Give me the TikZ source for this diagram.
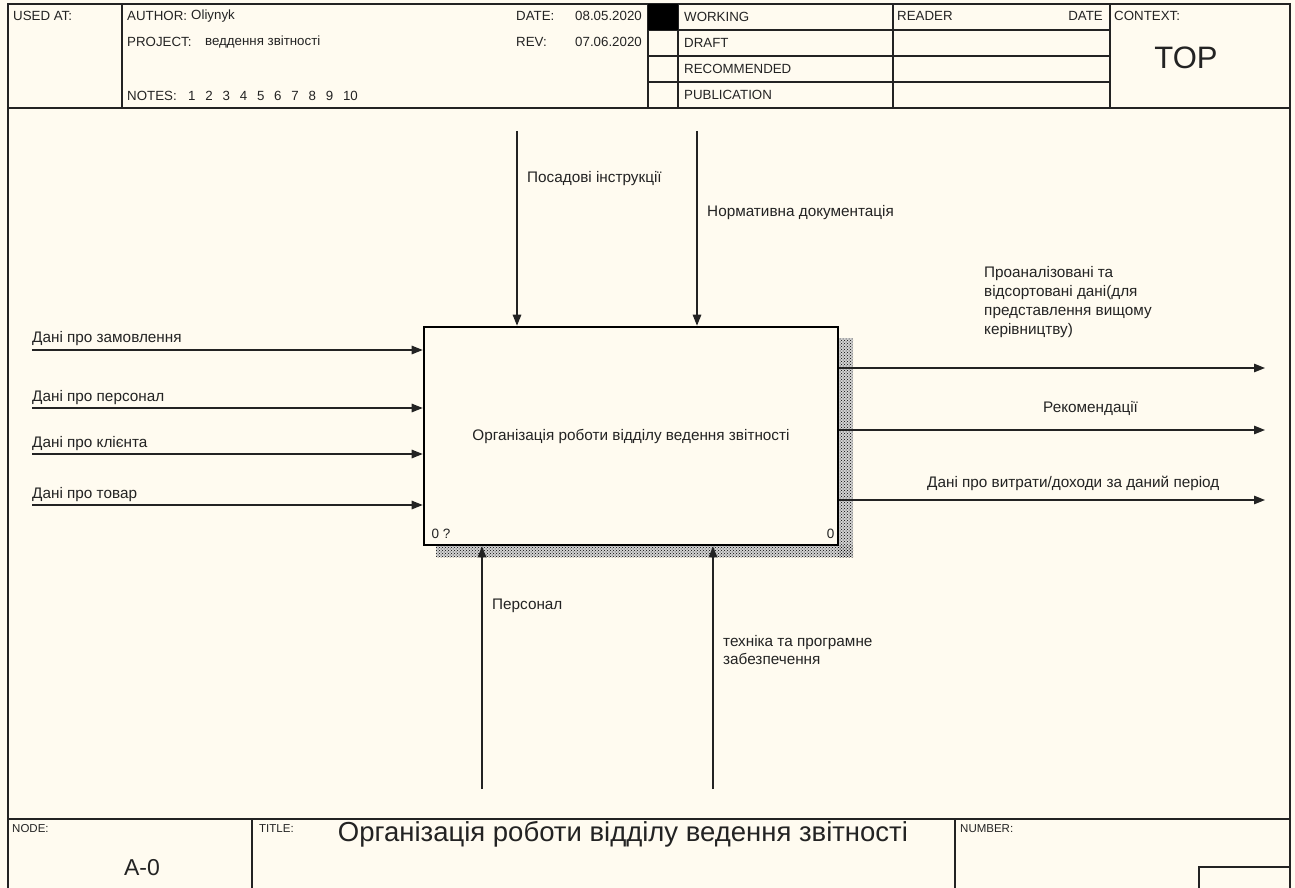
\documentclass[tikz,border=0pt]{standalone}
\usepackage{fontspec}
\setmainfont{Liberation Sans}
\usetikzlibrary{positioning,arrows.meta,patterns}
\definecolor{paper}{RGB}{255,251,240}
\definecolor{ink}{RGB}{35,35,35}
\tikzset{
  frame/.style={draw=ink, line width=1.3pt},
  hdr/.style={font=\fontsize{13.3}{15}\selectfont, text=ink, inner sep=0pt, anchor=west},
  small/.style={font=\fontsize{11.5}{13}\selectfont, text=ink, inner sep=0pt, anchor=west},
  lbl/.style={font=\fontsize{15.3}{18.8}\selectfont, text=ink, inner sep=0pt, anchor=west, align=left},
  flow/.style={draw=ink, line width=1.3pt, -{Triangle[length=11pt,width=8.5pt]}},
  funcbox/.style={draw=black, line width=2.6pt, fill=paper, minimum width=414pt, minimum height=218pt, font=\fontsize{15.3}{17}\selectfont, text=ink},
  shade/.style={pattern=crosshatch dots, pattern color=black}
}
\begin{document}
\begin{tikzpicture}[x=1pt,y=-1pt]
\useasboundingbox (0,0) rectangle (1295,888);
\fill[paper] (0,0) rectangle (1295,888);

\draw[frame, line width=2.2pt] (8,892) -- (8,4);
\draw[frame, line width=2.2pt] (1290,892) -- (1290,4);
\draw[frame] (7,4) -- (1291,4);
\draw[frame] (8,108) -- (1290,108);
\draw[frame] (122,4) -- (122,108);
\draw[frame] (648,4) -- (648,108);
\draw[frame] (678,4) -- (678,108);
\draw[frame] (893,4) -- (893,108);
\draw[frame] (1110,4) -- (1110,108);
\draw[frame] (648,30) -- (1110,30);
\draw[frame] (648,56) -- (1110,56);
\draw[frame] (648,82) -- (1110,82);
\fill[black] (648,4) rectangle (678,30);

\node[hdr] (usedat) at (13,16) {USED AT:};
\node[hdr] (author) at (127,16) {AUTHOR:};
\node[hdr] (authorv) at (191,16) {Oliynyk};
\node[hdr] (project) at (127,42) {PROJECT:};
\node[hdr] (projectv) at (205,42) {веддення звітності};
\node[hdr] (notes) at (127,96) {NOTES:};
\foreach \n in {1,...,10}
  \node[hdr] (note\n) at ({188+17.2*(\n-1)},96) {\n};
\node[hdr] (date) at (516,16) {DATE:};
\node[hdr, anchor=east] (datev) at (642,16) {08.05.2020};
\node[hdr] (rev) at (516,42) {REV:};
\node[hdr, anchor=east] (revv) at (642,42) {07.06.2020};

\node[hdr] (working) at (684,17) {WORKING};
\node[hdr] (draft) at (684,43) {DRAFT};
\node[hdr] (recommended) at (684,69) {RECOMMENDED};
\node[hdr] (publication) at (684,95) {PUBLICATION};
\node[hdr] (reader) at (897,16) {READER};
\node[hdr, anchor=east] (rdate) at (1103,16) {DATE};
\node[hdr] (context) at (1114,16) {CONTEXT:};
\node[font=\fontsize{31}{33}\selectfont, text=ink] (top) at (1186,58) {TOP};

\fill[gray!35] (838,338) rectangle (853,557);
\fill[gray!35] (436,545) rectangle (853,557);
\fill[shade] (838,338) rectangle (853,557);
\fill[shade] (436,545) rectangle (853,557);
\node[funcbox] (A0) at (631,436) {Організація роботи відділу ведення звітності};
\node[font=\fontsize{13.5}{15}\selectfont, text=ink, anchor=west] (num) at (428,534) {0 ?};
\node[font=\fontsize{13.5}{15}\selectfont, text=ink, anchor=east] (cost) at (838,534) {0};

\coordinate (in1) at (32,350);
\coordinate (in2) at (32,408);
\coordinate (in3) at (32,454);
\coordinate (in4) at (32,505);
\draw[flow] (in1) -- (A0.west |- in1);
\draw[flow] (in2) -- (A0.west |- in2);
\draw[flow] (in3) -- (A0.west |- in3);
\draw[flow] (in4) -- (A0.west |- in4);
\node[lbl] (lin1) at (32,339) {Дані про замовлення};
\node[lbl] (lin2) at (32,398) {Дані про персонал};
\node[lbl] (lin3) at (32,444) {Дані про клієнта};
\node[lbl] (lin4) at (32,495) {Дані про товар};

\coordinate (ct1) at (517,131);
\coordinate (ct2) at (697,131);
\draw[flow] (ct1) -- (ct1 |- A0.north);
\draw[flow] (ct2) -- (ct2 |- A0.north);
\node[lbl] (lct1) at (527,179) {Посадові інструкції};
\node[lbl] (lct2) at (707,213) {Нормативна документація};

\coordinate (mc1) at (482,789);
\coordinate (mc2) at (713,789);
\draw[flow] (mc1) -- (mc1 |- A0.south);
\draw[flow] (mc2) -- (mc2 |- A0.south);
\node[lbl] (lmc1) at (492,606) {Персонал};
\node[lbl] (lmc2) at (723,650) {техніка та програмне\\забезпечення};

\coordinate (out1) at (1265,368);
\coordinate (out2) at (1265,430);
\coordinate (out3) at (1265,500);
\draw[flow] (A0.east |- out1) -- (out1);
\draw[flow] (A0.east |- out2) -- (out2);
\draw[flow] (A0.east |- out3) -- (out3);
\node[lbl] (lout1) at (984,302) {Проаналізовані та\\відсортовані дані(для\\представлення вищому\\керівництву)};
\node[lbl] (lout2) at (1043,408) {Рекомендації};
\node[lbl] (lout3) at (927,483) {Дані про витрати/доходи за даний період};

\draw[frame] (8,819) -- (1290,819);
\draw[frame] (252,819) -- (252,892);
\draw[frame] (955,819) -- (955,892);
\draw[frame] (1199,892) -- (1199,867) -- (1290,867);
\node[small] (node) at (12,829) {NODE:};
\node[font=\fontsize{23}{25}\selectfont, text=ink] (nodev) at (142,868) {A-0};
\node[small] (title) at (259,829) {TITLE:};
\node[font=\fontsize{27.5}{30}\selectfont, text=ink] (titlev) at (623,834) {Організація роботи відділу ведення звітності};
\node[small] (number) at (960,829) {NUMBER:};
\end{tikzpicture}
\end{document}
